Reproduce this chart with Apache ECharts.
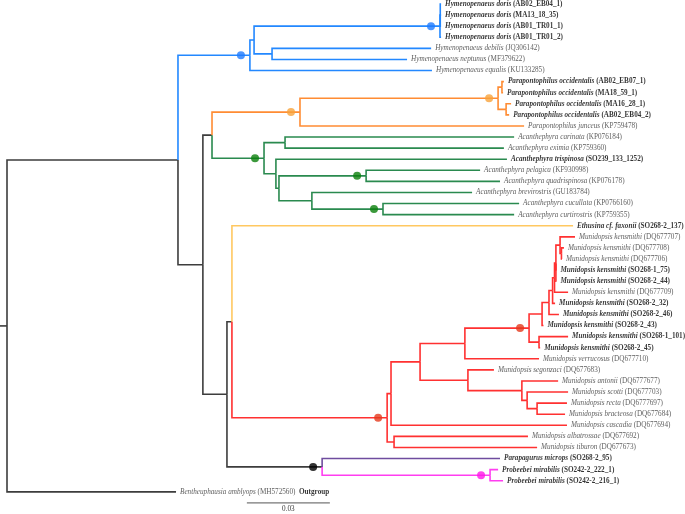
<!DOCTYPE html>
<html>
<head>
<meta charset="utf-8">
<script src="https://cdn.jsdelivr.net/npm/echarts@6/dist/echarts.min.js"></script>
<style>html,body{margin:0;padding:0;background:#fff}#c{width:685px;height:514px}</style>
</head>
<body>
<div id="c"></div>
<script>
// ---- DATA ----
const taxa = [
  'Hymenopenaeus doris','Hymenopenaeus doris','Hymenopenaeus doris','Hymenopenaeus doris',
  'Hymenopenaeus debilis','Hymenopenaeus neptunus','Hymenopenaeus equalis',
  'Parapontophilus occidentalis','Parapontophilus occidentalis','Parapontophilus occidentalis','Parapontophilus occidentalis',
  'Parapontophilus junceus',
  'Acanthephyra carinata','Acanthephyra eximia','Acanthephyra trispinosa','Acanthephyra pelagica',
  'Acanthephyra quadrispinosa','Acanthephyra brevirostris','Acanthephyra cucullata','Acanthephyra curtirostris',
  'Ethusina cf. faxonii',
  'Munidopsis kensmithi','Munidopsis kensmithi','Munidopsis kensmithi','Munidopsis kensmithi',
  'Munidopsis kensmithi','Munidopsis kensmithi','Munidopsis kensmithi','Munidopsis kensmithi',
  'Munidopsis kensmithi','Munidopsis kensmithi','Munidopsis kensmithi',
  'Munidopsis verrucosus','Munidopsis segonzaci','Munidopsis antonii','Munidopsis scotti',
  'Munidopsis recta','Munidopsis bracteosa','Munidopsis cascadia','Munidopsis albatrossae','Munidopsis tiburon',
  'Parapagurus microps','Probeebei mirabilis','Probeebei mirabilis',
  'Bentheuphausia amblyops'
];
const accessions = [
  'AB02_EB04_1','MA13_18_35','AB01_TR01_1','AB01_TR01_2',
  'JQ306142','MF379622','KU133285',
  'AB02_EB07_1','MA18_59_1','MA16_28_1','AB02_EB04_2',
  'KP759478',
  'KP076184','KP759360','SO239_133_1252','KF930998',
  'KP076178','GU183784','KP0766160','KP759355',
  'SO268-2_137',
  'DQ677707','DQ677708','DQ677706','SO268-1_75',
  'SO268-2_44','DQ677709','SO268-2_32','SO268-2_46',
  'SO268-2_43','SO268-1_101','SO268-2_45',
  'DQ677710','DQ677683','DQ6777677','DQ677703',
  'DQ6777697','DQ677684','DQ677694','DQ677692','DQ677673',
  'SO268-2_95','SO242-2_222_1','SO242-2_216_1',
  'MH572560'
];
const newSample = [
  1,1,1,1, 0,0,0, 1,1,1,1, 0,
  0,0,1,0, 0,0,0,0,
  1,
  0,0,0,1, 1,0,1,1, 1,1,1,
  0,0,0,0, 0,0,0,0,0,
  1,1,1,
  0
];
// distance from root (substitutions/site) of each tip
const leafDepth = [
  0.1569,0.1569,0.1569,0.1569, 0.1533,0.1446,0.1536,
  0.1796,0.1793,0.1822,0.1815, 0.1869,
  0.1833,0.1796,0.1807,0.1710, 0.1782,0.1681,0.1851,0.1833,
  0.2046,
  0.2053,0.2013,0.2006,0.1986, 0.1986,0.2028,0.1981,0.1995,
  0.1939,0.2028,0.1927,
  0.1923,0.1760,0.1992,0.2028, 0.2024,0.2017,0.2024,0.1883,0.1916,
  0.1782,0.1775,0.1793,
  0.0611
];
const outgroupTip = 44;
const outgroupLabel = 'Outgroup';
// internal nodes: [id, distance from root, children (tip index or node id)]
const internalNodes = [
  ['root', 0,      ['N1', 44]],
  ['N1',   0.0618, ['B0', 'N2']],
  ['B0',   0.0878, ['B1', 6]],
  ['B1',   0.0893, ['D', 'B2']],
  ['D',    0.1565, ['D1', 3]],
  ['D1',   0.1566, [0, 1, 2]],
  ['B2',   0.0958, [4, 5]],
  ['N2',   0.0708, ['OG', 'N3']],
  ['OG',   0.0741, ['O1', 'G0']],
  ['O1',   0.1059, ['P0', 11]],
  ['P0',   0.1775, ['P1', 'P2']],
  ['P1',   0.1789, [7, 8]],
  ['P2',   0.1804, [9, 10]],
  ['G0',   0.0929, ['G1', 'G2']],
  ['G1',   0.1005, [12, 13]],
  ['G2',   0.0972, [14, 'G3']],
  ['G3',   0.0983, ['G4', 'G5']],
  ['G4',   0.1298, [15, 16]],
  ['G5',   0.1102, [17, 'G6']],
  ['G6',   0.1359, [18, 19]],
  ['N3',   0.0795, ['E0', 'PP']],
  ['E0',   0.0813, [20, 'R0']],
  ['R0',   0.1374, ['R1', 'AT']],
  ['R1',   0.1388, ['M', 38]],
  ['M',    0.1493, ['K', 'S']],
  ['K',    0.1655, ['KK', 32]],
  ['KK',   0.1887, ['K1', 'K2']],
  ['K1',   0.1934, ['K3', 29]],
  ['K2',   0.1923, [30, 31]],
  ['K3',   0.1959, ['K4', 28]],
  ['K4',   0.1972, ['K5', 27]],
  ['K5',   0.1979, ['K6', 26]],
  ['K6',   0.1984, ['K7', 24, 25]],
  ['K7',   0.1999, [21, 'K9']],
  ['K9',   0.2004, [22, 23]],
  ['S',    0.1666, [33, 'A']],
  ['A',    0.1861, [34, 'Bn']],
  ['Bn',   0.1880, [35, 'C']],
  ['C',    0.1916, [36, 37]],
  ['AT',   0.1399, [39, 40]],
  ['PP',   0.1139, [41, 'PB']],
  ['PB',   0.1746, [42, 43]]
];
// branch where each highlighted clade colour starts
const cladeStart = { B0: 'blue', O1: 'orange', G0: 'green', 20: 'yellow', R0: 'red', 41: 'purple', PB: 'pink' };
// nodes with high support
const supportedNodes = ['B0', 'D', 'O1', 'P0', 'G0', 'G4', 'G6', 'KK', 'R0', 'PP', 'PB'];
const scaleBar = { start: 0.0867, length: 0.03, label: '0.03', row: 45 };

// ---- STYLE ----
const lineColors = { black: '#3d3d3d', blue: '#2388ff', orange: '#ff8c33', green: '#2a8a4f', yellow: '#ffc861', red: '#ff3131', purple: '#6f4d9f', pink: '#ff3ef0' };
const dotColors = { black: '#000000', blue: '#1f7cff', orange: '#f7a33b', green: '#0b800b', red: '#e5381c', pink: '#ff16e8' };
const FONT = '"Liberation Serif","Times New Roman",serif';
const FS = 7.2;

// ---- build tree geometry ----
const nodeMap = {};
internalNodes.forEach(n => { nodeMap[n[0]] = { id: n[0], x: n[1], children: n[2] }; });
function getNode(c) {
  if (typeof c === 'number') return { id: c, x: leafDepth[c], y: c, leaf: true };
  return nodeMap[c];
}
function computeY(id) {
  const n = nodeMap[id];
  const ys = n.children.map(c => typeof c === 'number' ? c : computeY(c));
  n.y = (ys[0] + ys[ys.length - 1]) / 2;
  return n.y;
}
computeY('root');
const segments = [];
const dots = [];
function walk(id, color) {
  const n = nodeMap[id];
  n.color = color;
  if (supportedNodes.indexOf(id) >= 0) dots.push({ value: [n.x, n.y], itemStyle: { color: dotColors[color] } });
  n.children.forEach(c => {
    const ch = getNode(c);
    const col = cladeStart[c] || color;
    segments.push({ value: [n.x, n.y, ch.x, ch.y], color: lineColors[col] });
    if (!ch.leaf) walk(c, col);
  });
}
walk('root', 'black');
const XMIN = -0.00253;
segments.push({ value: [XMIN, nodeMap.root.y, 0, nodeMap.root.y], color: lineColors.black, stub: true });

const tipData = taxa.map((t, i) => ({ value: [leafDepth[i], i], tip: i }));

const chart = echarts.init(document.getElementById('c'), null, { renderer: 'canvas' });
chart.setOption({
  animation: false,
  backgroundColor: '#ffffff',
  grid: { left: 0, top: 4, width: 615.67, height: 511.23, containLabel: false },
  xAxis: { type: 'value', min: XMIN, max: 0.22, show: false },
  yAxis: { type: 'value', min: 0, max: 46, inverse: true, show: false },
  series: [
    {
      type: 'custom',
      clip: false,
      encode: { x: [0, 2], y: [1, 3] },
      data: segments,
      renderItem: (params, api) => {
        const s = segments[params.dataIndex];
        const p = api.coord([api.value(0), api.value(1)]);
        const q = api.coord([api.value(2), api.value(3)]);
        const pts = s.stub ? [p, q] : [p, [p[0], q[1]], q];
        return { type: 'polyline', shape: { points: pts }, style: { stroke: s.color, lineWidth: 1.6, fill: null } };
      }
    },
    {
      type: 'scatter',
      data: dots,
      symbol: 'circle',
      symbolSize: 8,
      symbolOffset: [-9, 0],
      z: 5
    },
    {
      type: 'scatter',
      data: tipData,
      symbolSize: 0,
      z: 6,
      label: {
        show: true,
        position: 'right',
        distance: 4,
        fontFamily: FONT,
        fontSize: FS,
        color: '#222',
        formatter: p => {
          const i = p.data.tip;
          let s = newSample[i] ? `{bi|${taxa[i]}} {b|(${accessions[i]})}` : `{i|${taxa[i]}} {n|(${accessions[i]})}`;
          if (i === outgroupTip) s += `  {b|${outgroupLabel}}`;
          return s;
        },
        rich: {
          i: { fontFamily: FONT, fontSize: FS, fontStyle: 'italic', color: '#333' },
          n: { fontFamily: FONT, fontSize: FS, color: '#333' },
          bi: { fontFamily: FONT, fontSize: FS, fontStyle: 'italic', fontWeight: 'bold', color: '#000' },
          b: { fontFamily: FONT, fontSize: FS, fontWeight: 'bold', color: '#000' }
        }
      }
    },
    {
      type: 'custom',
      clip: false,
      encode: { x: [0], y: [1] },
      data: [[scaleBar.start, scaleBar.row, scaleBar.start + scaleBar.length]],
      renderItem: (params, api) => {
        const a = api.coord([api.value(0), api.value(1)]);
        const b = api.coord([api.value(2), api.value(1)]);
        return {
          type: 'group',
          children: [
            { type: 'line', shape: { x1: a[0], y1: a[1], x2: b[0], y2: b[1] }, style: { stroke: '#555', lineWidth: 1 } },
            { type: 'text', style: { text: scaleBar.label, x: (a[0] + b[0]) / 2, y: a[1] + 3, textAlign: 'center', textVerticalAlign: 'top', fontFamily: FONT, fontSize: FS, fill: '#333' } }
          ]
        };
      }
    }
  ]
});
</script>
</body>
</html>
